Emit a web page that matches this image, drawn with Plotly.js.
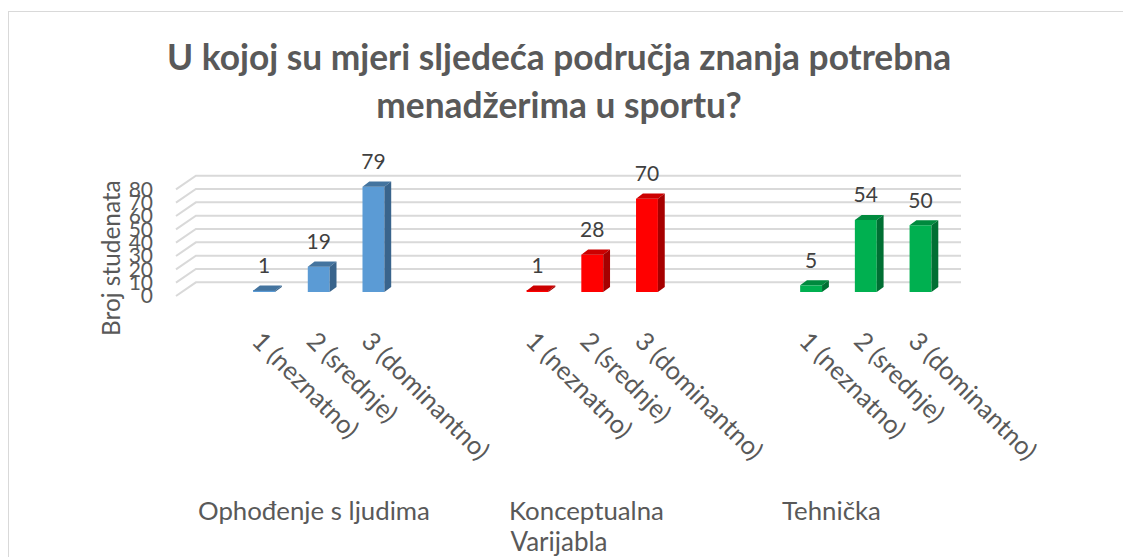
<!DOCTYPE html>
<html>
<head>
<meta charset="utf-8">
<script src="https://cdn.plot.ly/plotly-3.0.1.min.js"></script>
<style>
    html, body { margin: 0; padding: 0; background: #fff; overflow: hidden; }
    #frame { position: absolute; left: 8px; top: 11px; width: 1200px; height: 600px; border: 1px solid #d9d9d9; }
    #chart { position: absolute; left: 0; top: 0; width: 1123px; height: 557px; }
</style>
</head>
<body>
<div id="frame"></div>
<div id="chart"></div>
<script>
    // Values
    const groups = ['Ophođenje s ljudima', 'Konceptualna', 'Tehnička'];
    const levels = ['1 (neznatno)', '2 (srednje)', '3 (dominantno)'];
    const groupValues = [
        [1, 19, 79],
        [1, 28, 70],
        [5, 54, 50]
    ];
    const yTicks = [0, 10, 20, 30, 40, 50, 60, 70, 80];

    const frontColors = ['#5b9bd5', '#ff0000', '#00b050'];
    const topColors = ['#44749f', '#cc0000', '#008a3e'];
    const sideColors = ['#39648c', '#a60000', '#006f33'];

    const font = 'Lato, sans-serif';
    const textColor = '#595959';

    // Excel 3D look: depth offsets in axis units
    const barWidth = 0.4;
    const barDepthX = 0.125;
    const barDepthY = 3.8;
    const wallFront = -3;    // where the gridlines start at the left
    const wallBack = 7.25;   // where they run along the back wall
    const wallInset = -1.245;
    const xLeft = -1.609;
    const xRight = 12.74;
    const xAxisMin = -1.956;
    const tickShift = -0.08;  // rotated labels start a little left of the bar centre
    // the group captions do not sit under the middle bars in the original
    const groupLabelX = [0.91, 5.89, 10.37];

    const traces = [];
    const allX = [], allText = [], tickX = [], tickText = [];

    groups.forEach((g, gi) => {
        const xs = levels.map((_, i) => gi * 5 + i);
        const ys = groupValues[gi];

        traces.push({
            type: 'bar', x: xs, y: ys, width: barWidth,
            marker: { color: frontColors[gi], line: { width: 0 } },
            hoverinfo: 'skip'
        });

        // top and side faces follow from the same values
        const topX = [], topY = [], sideX = [], sideY = [];
        xs.forEach((x, i) => {
            const l = x - barWidth / 2, r = x + barWidth / 2, v = ys[i];
            topX.push(l, r, r + barDepthX, l + barDepthX, l, null);
            topY.push(v, v, v + barDepthY, v + barDepthY, v, null);
            sideX.push(r, r + barDepthX, r + barDepthX, r, r, null);
            sideY.push(0, barDepthY, v + barDepthY, v, 0, null);
            allX.push(x);
            allText.push({ y: v, text: String(v) });
            tickX.push(x + tickShift);
            tickText.push(levels[i]);
        });
        traces.push({ type: 'scatter', mode: 'lines', x: topX, y: topY, fill: 'toself',
            fillcolor: topColors[gi], line: { width: 0 }, hoverinfo: 'skip' });
        traces.push({ type: 'scatter', mode: 'lines', x: sideX, y: sideY, fill: 'toself',
            fillcolor: sideColors[gi], line: { width: 0 }, hoverinfo: 'skip' });
    });

    // data labels
    traces.push({
        type: 'scatter', mode: 'text',
        x: allX,
        y: allText.map(d => d.y + 17.25),
        text: allText.map(d => d.text),
        textposition: 'middle center',
        textfont: { family: font, size: 21, color: '#404040' },
        hoverinfo: 'skip'
    });

    // gridlines: slanted stub on the floor side, then along the back wall
    const shapes = [];
    yTicks.forEach(v => {
        shapes.push({
            type: 'path', layer: 'below', xref: 'x', yref: 'y',
            path: `M ${xLeft} ${v + wallFront} L ${wallInset} ${v + wallBack} L ${xRight} ${v + wallBack}`,
            line: { color: '#d9d9d9', width: 2 }
        });
    });

    const annotations = groups.map((g, i) => ({
        text: g, x: groupLabelX[i], y: -1.4, xref: 'x', yref: 'paper',
        xanchor: 'center', yanchor: 'middle',
        showarrow: false, font: { family: font, size: 25.8, color: textColor }
    }));

    const titleText = '<span style="font-size:35.3px">U kojoj su mjeri sljedeća područja znanja potrebna<br>menadžerima u sportu?</span>';

    const layout = {
        width: 1123, height: 557,
        margin: { l: 157, r: 162, t: 150, b: 257 },
        paper_bgcolor: 'rgba(0,0,0,0)',
        plot_bgcolor: 'rgba(0,0,0,0)',
        showlegend: false,
        barmode: 'overlay',
        title: {
            text: titleText,
            font: { family: font, size: 37, color: textColor, weight: 700 },
            x: 559 / 1123, xanchor: 'center',
            y: 1 - 70 / 557, yanchor: 'middle'
        },
        xaxis: {
            range: [xAxisMin, xRight],
            tickmode: 'array', tickvals: tickX, ticktext: tickText, tickangle: 45,
            tickfont: { family: font, size: 25.5, color: textColor },
            ticklabelstandoff: 20,
            ticks: '', showgrid: false, zeroline: false, showline: false,
            title: { text: 'Varijabla', font: { family: font, size: 26, color: textColor }, standoff: 87 }
        },
        yaxis: {
            range: [-6, 106.5],
            tickmode: 'array',
            tickvals: yTicks.map(v => v + wallFront),
            ticktext: yTicks.map(String),
            tickfont: { family: font, size: 21, color: textColor },
            ticklabelstandoff: 3,
            ticks: '', showgrid: false, zeroline: false, showline: false
        },
        shapes: shapes,
        annotations: annotations.concat([{
            text: 'Broj studenata', textangle: -90,
            xref: 'paper', yref: 'y', x: -0.0585, y: 25.5,
            xanchor: 'center', yanchor: 'middle',
            showarrow: false, font: { family: font, size: 24.4, color: textColor }
        }])
    };

    Plotly.newPlot('chart', traces, layout, { displayModeBar: false });
</script>
</body>
</html>
